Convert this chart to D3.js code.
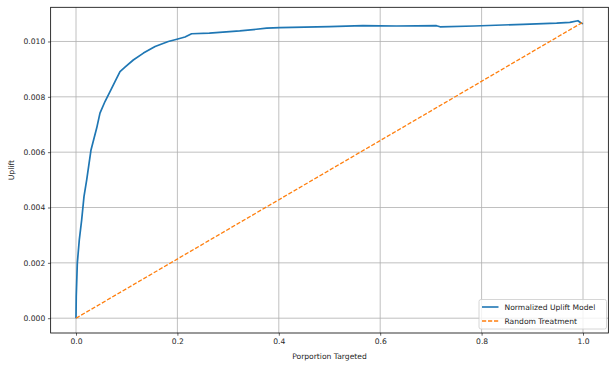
<!DOCTYPE html>
<html lang="en">
<head>
  <meta charset="UTF-8">
  <title>Uplift curve</title>
  <script src="https://cdn.jsdelivr.net/npm/d3@7"></script>
  <style>
    body { margin: 0; background: #fff; }
    text { font-family: "DejaVu Sans", sans-serif; fill: #262626; }
  </style>
</head>
<body>
<div id="chart"></div>
<script type="text/javascript">
  // values
  var propTargeted = [0, 0.0005, 0.0026, 0.0065, 0.0112, 0.0158, 0.0211, 0.0296, 0.0408, 0.0473, 0.0572,
    0.0671, 0.0769, 0.0868, 0.0966, 0.113, 0.133, 0.156, 0.182, 0.199, 0.215, 0.228,
    0.263, 0.323, 0.376, 0.402, 0.50, 0.566, 0.632, 0.711, 0.718, 0.785, 0.882, 0.948, 0.974, 0.990, 0.997, 1.0];
  var upliftModel = [0, 0.0008, 0.00199, 0.00283, 0.00355, 0.0044, 0.0050, 0.00608, 0.00687, 0.00741, 0.00783,
    0.00819, 0.00855, 0.00891, 0.00907, 0.00933, 0.00958, 0.00982, 0.0100, 0.01008, 0.01016, 0.01028,
    0.0103, 0.01038, 0.01048, 0.0105, 0.01054, 0.01057, 0.01056, 0.01057, 0.01053, 0.01056, 0.01062, 0.01066, 0.01069, 0.01075, 0.01066, 0.01064];
  var randomX = [0, 1];
  var randomY = [0, 0.0107];
  var xTicks = [0, 0.2, 0.4, 0.6, 0.8, 1.0];
  var yTicks = [0, 0.002, 0.004, 0.006, 0.008, 0.010];
  var seriesNames = ["Normalized Uplift Model", "Random Treatment"];

  var width = 615, height = 369;
  var plotLeft = 50.65, plotRight = 608.35, plotTop = 7.3, plotBottom = 333;
  var blue = "#1f77b4", orange = "#ff7f0e";

  var svg = d3.select("#chart").append("svg")
    .attr("width", width)
    .attr("height", height);

  var x = d3.scaleLinear().domain([-0.05, 1.05]).range([plotLeft, plotRight]);
  var y = d3.scaleLinear().domain([-0.000535, 0.011235]).range([plotBottom, plotTop]);

  // grid
  svg.append("g").selectAll("line").data(xTicks).enter().append("line")
    .attr("x1", function(d) { return x(d); }).attr("x2", function(d) { return x(d); })
    .attr("y1", plotTop).attr("y2", plotBottom)
    .attr("stroke", "#b0b0b0").attr("stroke-width", 0.8);
  svg.append("g").selectAll("line").data(yTicks).enter().append("line")
    .attr("y1", function(d) { return y(d); }).attr("y2", function(d) { return y(d); })
    .attr("x1", plotLeft).attr("x2", plotRight)
    .attr("stroke", "#b0b0b0").attr("stroke-width", 0.8);

  // lines
  var line = d3.line()
    .x(function(d) { return x(d[0]); })
    .y(function(d) { return y(d[1]); });

  svg.append("path")
    .datum(d3.zip(propTargeted, upliftModel))
    .attr("d", line)
    .attr("fill", "none")
    .attr("stroke", blue)
    .attr("stroke-width", 1.7)
    .attr("stroke-linejoin", "round");

  svg.append("path")
    .datum(d3.zip(randomX, randomY))
    .attr("d", line)
    .attr("fill", "none")
    .attr("stroke", orange)
    .attr("stroke-width", 1.3)
    .attr("stroke-dasharray", "4.2,1.8");

  // axes
  var xAxis = svg.append("g")
    .attr("transform", "translate(0," + plotBottom + ")")
    .call(d3.axisBottom(x).tickValues(xTicks).tickFormat(d3.format(".1f")).tickSize(2.7).tickPadding(2.7));
  var yAxis = svg.append("g")
    .attr("transform", "translate(" + plotLeft + ",0)")
    .call(d3.axisLeft(y).tickValues(yTicks).tickFormat(d3.format(".3f")).tickSize(2.7).tickPadding(2.7));
  [xAxis, yAxis].forEach(function(a) {
    a.select(".domain").remove();
    a.selectAll("line").attr("stroke", "#000").attr("stroke-width", 0.6);
    a.selectAll("text").attr("font-family", "DejaVu Sans").attr("font-size", "7.6px").attr("fill", "#262626");
  });

  // frame
  svg.append("rect")
    .attr("x", plotLeft).attr("y", plotTop)
    .attr("width", plotRight - plotLeft).attr("height", plotBottom - plotTop)
    .attr("fill", "none").attr("stroke", "#000").attr("stroke-width", 0.8);

  // labels
  svg.append("text")
    .attr("x", (plotLeft + plotRight) / 2).attr("y", 359)
    .attr("text-anchor", "middle").attr("font-size", "7.6px")
    .text("Porportion Targeted");
  svg.append("text")
    .attr("transform", "translate(14," + ((plotTop + plotBottom) / 2) + ") rotate(-90)")
    .attr("text-anchor", "middle").attr("font-size", "7.6px")
    .text("Uplift");

  // legend
  var legend = svg.append("g");
  legend.append("rect")
    .attr("x", 479).attr("y", 299.5).attr("width", 127.5).attr("height", 29.5)
    .attr("rx", 2).attr("fill", "#fff").attr("fill-opacity", 0.8)
    .attr("stroke", "#cccccc").attr("stroke-width", 0.8);
  var colors = [blue, orange];
  seriesNames.forEach(function(name, i) {
    var ly = 307 + i * 14;
    legend.append("line")
      .attr("x1", 482).attr("x2", 498.5).attr("y1", ly).attr("y2", ly)
      .attr("stroke", colors[i]).attr("stroke-width", i ? 1.3 : 1.6)
      .attr("stroke-dasharray", i ? "4.2,1.8" : null);
    legend.append("text")
      .attr("x", 504.5).attr("y", ly + 2.8)
      .attr("font-size", "7.6px")
      .text(name);
  });
</script>
</body>
</html>
